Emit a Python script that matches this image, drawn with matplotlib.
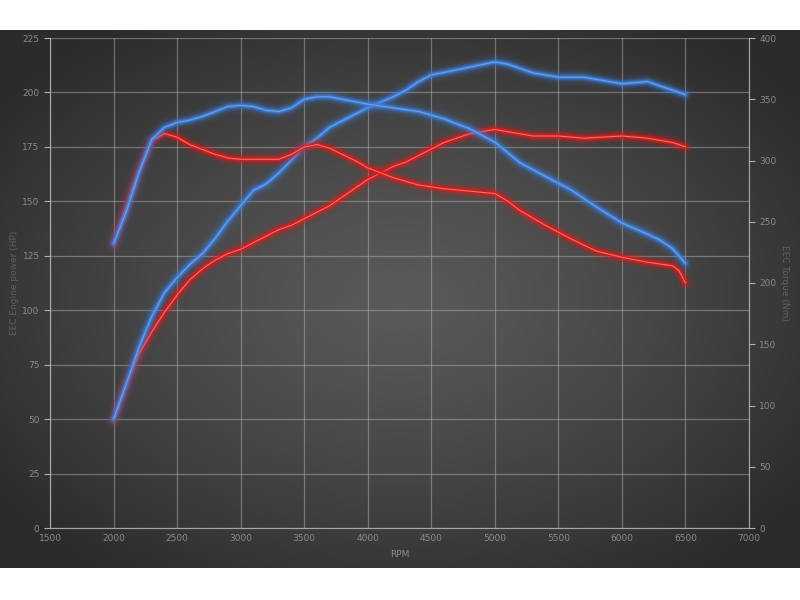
import numpy as np
import matplotlib
matplotlib.use("Agg")
import matplotlib.pyplot as plt

# ---- data ----
rpm_tq_blue = [2000, 2100, 2200, 2300, 2400, 2500, 2600, 2700, 2800, 2900, 3000, 3100, 3200, 3300,
               3400, 3500, 3600, 3700, 3800, 3900, 4000, 4200, 4400, 4600, 4800, 5000, 5200,
               5400, 5600, 5800, 6000, 6200, 6300, 6400, 6500]
torque_blue = [232, 258, 290, 317, 327, 331, 333, 336, 340, 344, 345, 344, 341, 340,
               343, 350, 352, 352, 350, 348, 346, 343, 340, 334, 326, 315, 298,
               287, 276, 262, 249, 240, 235, 228, 216]

rpm_tq_red = [2000, 2100, 2200, 2300, 2400, 2500, 2600, 2700, 2800, 2900, 3000, 3100, 3200, 3300,
              3400, 3500, 3600, 3700, 3800, 3900, 4000, 4200, 4400, 4600, 4800, 5000, 5100,
              5200, 5400, 5600, 5800, 6000, 6200, 6400, 6450, 6500]
torque_red = [232, 262, 292, 316, 322, 319, 313, 309, 305, 302, 301, 301, 301, 301,
              305, 311, 313, 310, 305, 300, 294, 286, 280, 277, 275, 273, 267,
              259, 247, 236, 226, 221, 217, 214, 210, 200]

rpm_pw_blue = [2000, 2100, 2200, 2300, 2400, 2500, 2600, 2700, 2800, 2900, 3000, 3100, 3200, 3300,
               3400, 3500, 3600, 3700, 3800, 3900, 4000, 4200, 4300, 4400, 4500, 4750, 5000,
               5100, 5300, 5500, 5700, 5900, 6000, 6200, 6350, 6500]
power_blue = [50, 66, 83, 97, 108, 115, 121, 126, 133, 141, 148, 155, 158, 163,
              169, 175, 179, 184, 187, 190, 193, 198, 201, 205, 208, 211, 214,
              213, 209, 207, 207, 205, 204, 205, 202, 199]

rpm_pw_red = [2000, 2100, 2200, 2300, 2400, 2500, 2600, 2700, 2800, 2900, 3000, 3100, 3200, 3300,
              3400, 3500, 3600, 3700, 3800, 3900, 4000, 4100, 4200, 4300, 4400, 4500, 4600,
              4700, 4800, 4900, 5000, 5100, 5200, 5300, 5500, 5700, 6000, 6200, 6400, 6500]
power_red = [50, 66, 80, 90, 99, 107, 114, 119, 123, 126, 128, 131, 134, 137,
             139, 142, 145, 148, 152, 156, 160, 163, 166, 168, 171, 174, 177,
             179, 181, 182, 183, 182, 181, 180, 180, 179, 180, 179, 177, 175]

x_ticks = [1500, 2000, 2500, 3000, 3500, 4000, 4500, 5000, 5500, 6000, 6500, 7000]
hp_ticks = [0, 25, 50, 75, 100, 125, 150, 175, 200, 225]
nm_ticks = [0, 50, 100, 150, 200, 250, 300, 350, 400]

BLUE_GLOW = "#3d7fdc"
BLUE_CORE = "#78aef0"
RED_GLOW = "#e01a1a"
RED_CORE = "#ff8a80"
TXT = "#8a8a8a"
GRID = "#b0b0b0"

fig = plt.figure(figsize=(8, 6), dpi=100, facecolor="white")

# dark radial background panel
bg = fig.add_axes([0, 32 / 600, 1, 538 / 600])
bg.set_axis_off()
h, w = 270, 400
yy, xx = np.mgrid[0:h, 0:w]
cx, cy = w * 0.5, h * 0.5
r = np.sqrt(((xx - cx) / (w * 0.62)) ** 2 + ((yy - cy) / (h * 0.62)) ** 2)
r = np.clip(r, 0, 1)
val = 0.35 - 0.18 * r ** 1.3
img = np.dstack([val, val, val])
bg.imshow(img, aspect="auto", extent=[0, 1, 0, 1], interpolation="bilinear")
bg.set_xlim(0, 1)
bg.set_ylim(0, 1)

ax = fig.add_axes([50 / 800, 1 - 528 / 600, 699 / 800, 490 / 600])
ax.patch.set_alpha(0)
ax2 = ax.twinx()
ax2.patch.set_alpha(0)

ax.set_xlim(1500, 7000)
ax.set_ylim(0, 225)
ax2.set_ylim(0, 400)

ax.set_xticks(x_ticks)
ax.set_yticks(hp_ticks)
ax2.set_yticks(nm_ticks)

ax.grid(True, color=GRID, alpha=0.5, linewidth=0.9)
ax.set_axisbelow(True)

for a in (ax, ax2):
    a.spines["top"].set_visible(False)
    for s in ("left", "right", "bottom"):
        a.spines[s].set_color(GRID)
        a.spines[s].set_alpha(0.7)
    a.tick_params(colors=TXT, labelsize=6.5, length=4, width=0.8)
ax.tick_params(axis="y", colors=GRID, labelcolor=TXT)
ax2.tick_params(axis="y", colors=GRID, labelcolor=TXT)
ax.tick_params(axis="x", length=0, labelcolor=TXT, pad=4)

ax.set_xlabel("RPM", color=TXT, fontsize=6.5)
ax.xaxis.set_label_coords(0.5, -0.045)
ax.set_ylabel("EEC Engine power (HP)", color="#606060", fontsize=6.5)
ax.yaxis.set_label_coords(-0.044, 0.5)
ax2.set_ylabel("EEC Torque (Nm)", color="#606060", fontsize=6.5, rotation=-90, va="center")
ax2.yaxis.set_label_coords(1.051, 0.5)


def glow(a, x, y, glow_col, core_col):
    kw = dict(solid_capstyle="round", solid_joinstyle="round")
    for lw, al in [(13, 0.04), (10, 0.07), (7.5, 0.12), (5.5, 0.2), (4, 0.35)]:
        a.plot(x, y, color=glow_col, lw=lw, alpha=al, **kw)
    a.plot(x, y, color=glow_col, lw=2.4, alpha=0.85, **kw)
    a.plot(x, y, color=core_col, lw=0.8, alpha=0.75, **kw)


glow(ax2, rpm_tq_red, torque_red, RED_GLOW, RED_CORE)
glow(ax, rpm_pw_red, power_red, RED_GLOW, RED_CORE)
glow(ax2, rpm_tq_blue, torque_blue, BLUE_GLOW, BLUE_CORE)
glow(ax, rpm_pw_blue, power_blue, BLUE_GLOW, BLUE_CORE)

fig.savefig("out.png", dpi=100, facecolor="white")
